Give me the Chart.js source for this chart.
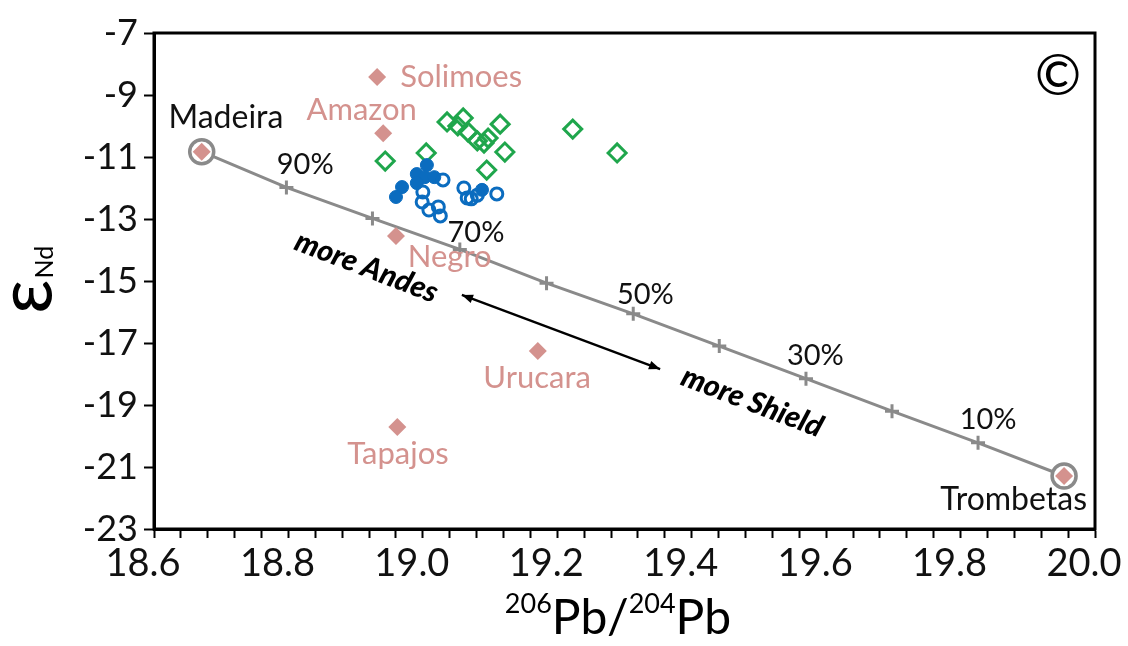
<!DOCTYPE html>
<html>
<head>
<meta charset="utf-8">
<script src="https://cdn.jsdelivr.net/npm/chart.js@4.4.1/dist/chart.umd.min.js"></script>
<style>
  html, body { margin: 0; padding: 0; background: #fff; }
  #wrap { width: 1128px; height: 646px; }
</style>
</head>
<body>
<div id="wrap"><canvas id="c"></canvas></div>
<script>
// river end members (206Pb/204Pb, eNd)
const rivers   = ['Madeira', 'Solimoes', 'Amazon', 'Negro', 'Urucara', 'Tapajos', 'Trombetas'];
const riverPb  = [18.671, 18.932, 18.941, 18.960, 19.171, 18.962, 19.954];
const riverNd  = [-10.83, -8.42, -10.23, -13.55, -17.26, -19.71, -21.29];

// green open diamonds
const greenPb = [18.944, 19.005, 19.036, 19.060, 19.052, 19.067, 19.081, 19.091, 19.097, 19.115, 19.122, 19.095, 19.223, 19.289];
const greenNd = [-11.13, -10.87, -9.87, -9.74, -10.00, -10.19, -10.48, -10.55, -10.39, -9.94, -10.84, -11.42, -10.10, -10.87];

// blue filled circles
const blueFillPb = [19.006, 18.991, 19.003, 19.017, 18.991, 18.969, 18.960, 19.088];
const blueFillNd = [-11.26, -11.55, -11.65, -11.65, -11.84, -11.97, -12.29, -12.06];

// blue open circles
const blueOpenPb = [19.030, 19.000, 18.999, 19.009, 19.023, 19.026, 19.061, 19.066, 19.081, 19.110, 19.072];
const blueOpenNd = [-11.74, -12.13, -12.45, -12.71, -12.61, -12.90, -12.00, -12.32, -12.23, -12.19, -12.35];

// mixing line Madeira -> Trombetas, marks every 10 %
const mixPct = [100, 90, 80, 70, 60, 50, 40, 30, 20, 10, 0];
const mixPb  = [18.671, 18.797, 18.925, 19.055, 19.184, 19.313, 19.441, 19.570, 19.698, 19.826, 19.954];
const mixNd  = [-10.83, -11.98, -12.98, -13.98, -15.07, -16.06, -17.10, -18.15, -19.20, -20.22, -21.29];

const xTickLabels = [18.6, 18.8, 19.0, 19.2, 19.4, 19.6, 19.8, 20.0];
const yTickLabels = [-23, -21, -19, -17, -15, -13, -11, -9, -7];

const FONT = 'Lato, "Open Sans", sans-serif';
const pink = '#d4928e';
const green = '#1fa64c';
const blue = '#0b6cbf';
const grey = '#8a8a8a';

const pts = (xs, ys) => xs.map((x, i) => ({ x: x, y: ys[i] }));

// text placed on the plot (data coords)
const notes = [
  { t: 'Solimoes',  x: 19.057, y: -8.42,  c: pink, s: 31 },
  { t: 'Amazon',    x: 18.909, y: -9.48,  c: pink, s: 31 },
  { t: 'Negro',     x: 19.040, y: -14.23, c: pink, s: 31 },
  { t: 'Urucara',   x: 19.170, y: -18.13, c: pink, s: 31 },
  { t: 'Tapajos',   x: 18.963, y: -20.58, c: pink, s: 31 },
  { t: 'Madeira',   x: 18.707, y: -9.74,  c: '#111', s: 32 },
  { t: 'Trombetas', x: 19.879, y: -22.06, c: '#111', s: 32 },
  { t: '90%', x: 18.825, y: -11.26, c: '#111', s: 29 },
  { t: '70%', x: 19.079, y: -13.45, c: '#111', s: 29 },
  { t: '50%', x: 19.331, y: -15.45, c: '#111', s: 29 },
  { t: '30%', x: 19.584, y: -17.42, c: '#111', s: 29 },
  { t: '10%', x: 19.841, y: -19.48, c: '#111', s: 29 }
];
const arrows = [{ x1: 19.058, y1: -15.45, x2: 19.353, y2: -17.84 }];
const slanted = [
  { t: 'more Andes',  x: 18.916, y: -14.55, a: 21 },
  { t: 'more Shield', x: 19.490, y: -18.90, a: 21 }
];

const decor = {
  id: 'decor',
  afterDatasetsDraw(chart) {
    const ctx = chart.ctx, a = chart.chartArea;
    const sx = chart.scales.x, sy = chart.scales.y;
    ctx.save();
    ctx.textAlign = 'center';
    ctx.textBaseline = 'middle';
    notes.forEach(n => {
      ctx.fillStyle = n.c;
      ctx.font = n.s + 'px ' + FONT;
      ctx.fillText(n.t, sx.getPixelForValue(n.x), sy.getPixelForValue(n.y));
    });
    slanted.forEach(n => {
      ctx.save();
      ctx.translate(sx.getPixelForValue(n.x), sy.getPixelForValue(n.y));
      ctx.rotate(n.a * Math.PI / 180);
      ctx.fillStyle = '#000';
      ctx.font = 'italic 900 30px ' + FONT;
      ctx.fillText(n.t, 0, 0);
      ctx.restore();
    });
    arrows.forEach(r => {
      const x1 = sx.getPixelForValue(r.x1), y1 = sy.getPixelForValue(r.y1);
      const x2 = sx.getPixelForValue(r.x2), y2 = sy.getPixelForValue(r.y2);
      const ang = Math.atan2(y2 - y1, x2 - x1);
      ctx.strokeStyle = '#000';
      ctx.fillStyle = '#000';
      ctx.lineWidth = 2.4;
      ctx.beginPath(); ctx.moveTo(x1, y1); ctx.lineTo(x2, y2); ctx.stroke();
      [[x1, y1, ang + Math.PI], [x2, y2, ang]].forEach(h => {
        ctx.beginPath();
        ctx.moveTo(h[0], h[1]);
        ctx.lineTo(h[0] - 12 * Math.cos(h[2] - 0.38), h[1] - 12 * Math.sin(h[2] - 0.38));
        ctx.lineTo(h[0] - 12 * Math.cos(h[2] + 0.38), h[1] - 12 * Math.sin(h[2] + 0.38));
        ctx.closePath();
        ctx.fill();
      });
    });
    // panel mark
    ctx.fillStyle = '#000';
    ctx.font = '56px ' + FONT;
    ctx.fillText('\u00A9', a.right - 37, a.top + 44);
    // frame
    ctx.strokeStyle = '#000';
    ctx.lineWidth = 3;
    ctx.strokeRect(a.left, a.top, a.right - a.left, a.bottom - a.top);
    ctx.restore();
  },
  afterDraw(chart) {
    const ctx = chart.ctx;
    ctx.save();
    ctx.fillStyle = '#000';
    ctx.textBaseline = 'alphabetic';
    ctx.textAlign = 'left';
    // x title  206Pb/204Pb
    const parts = [['206', 27, -21], ['Pb/', 48, 0], ['204', 27, -21], ['Pb', 48, 0]];
    let w = 0;
    parts.forEach(p => { ctx.font = p[1] + 'px ' + FONT; w += ctx.measureText(p[0]).width; });
    let x = 618 - w / 2;
    parts.forEach(p => {
      ctx.font = p[1] + 'px ' + FONT;
      ctx.fillText(p[0], x, 634 + p[2]);
      x += ctx.measureText(p[0]).width;
    });
    // y title  eNd
    ctx.translate(52, 314);
    ctx.rotate(-Math.PI / 2);
    ctx.font = '76px ' + FONT;
    ctx.fillText('\u03B5', 0, 0);
    const ew = ctx.measureText('\u03B5').width;
    ctx.font = '25px ' + FONT;
    ctx.fillText('Nd', ew + 1, 1);
    ctx.restore();
  }
};

new Chart(document.getElementById('c'), {
  type: 'scatter',
  data: {
    datasets: [
      { label: 'rivers', data: pts(riverPb, riverNd), pointStyle: 'rectRot', pointRadius: 9,
        backgroundColor: pink, borderColor: pink, borderWidth: 0 },
      { label: 'blue open', data: pts(blueOpenPb, blueOpenNd), pointStyle: 'circle', pointRadius: 6,
        backgroundColor: 'rgba(255,255,255,0)', borderColor: blue, borderWidth: 3 },
      { label: 'blue filled', data: pts(blueFillPb, blueFillNd), pointStyle: 'circle', pointRadius: 6.5,
        backgroundColor: blue, borderColor: blue, borderWidth: 1 },
      { label: 'green', data: pts(greenPb, greenNd), pointStyle: 'rectRot', pointRadius: 9,
        backgroundColor: 'rgba(255,255,255,0)', borderColor: green, borderWidth: 3 },
      { label: 'ends', data: [{ x: mixPb[0], y: mixNd[0] }, { x: mixPb[mixPb.length - 1], y: mixNd[mixNd.length - 1] }],
        pointStyle: 'circle', pointRadius: 12, backgroundColor: '#fff', borderColor: grey, borderWidth: 3.5 },
      { label: 'mixing', data: pts(mixPb, mixNd), showLine: true, borderColor: grey, borderWidth: 3,
        pointStyle: 'cross', pointRadius: mixPct.map(p => (p === 100 || p === 0) ? 0 : 7),
        pointBorderColor: grey, pointBorderWidth: 3, backgroundColor: grey }
    ]
  },
  options: {
    responsive: true,
    maintainAspectRatio: false,
    animation: false,
    events: [],
    layout: { padding: { top: 33, right: 33, left: 0, bottom: 0 } },
    plugins: { legend: { display: false }, tooltip: { enabled: false } },
    scales: {
      x: {
        type: 'linear', min: 18.6, max: 20.0,
        border: { display: true, color: '#000', width: 3 },
        grid: { drawOnChartArea: false, drawTicks: true, tickLength: 9, tickWidth: 2, tickColor: '#000' },
        ticks: {
          stepSize: 0.04, autoSkip: false, maxRotation: 0, padding: 3, labelOffset: -11,
          color: '#111', font: { family: FONT, size: 38 },
          callback: v => xTickLabels.some(t => Math.abs(t - v) < 1e-6) ? v.toFixed(1) : ''
        },
        afterFit: s => { s.height = 117; s.paddingLeft = 0; s.paddingRight = 0; }
      },
      y: {
        type: 'linear', min: -23, max: -7,
        border: { display: true, color: '#000', width: 3 },
        grid: { drawOnChartArea: false, drawTicks: true, tickLength: 10, tickWidth: 2, tickColor: '#000' },
        ticks: {
          stepSize: 2, autoSkip: false, padding: 6,
          color: '#111', font: { family: FONT, size: 36 },
          callback: v => yTickLabels.includes(Math.round(v)) ? String(Math.round(v)) : ''
        },
        afterFit: s => { s.width = 154; s.paddingTop = 0; s.paddingBottom = 0; }
      }
    }
  },
  plugins: [decor]
});
</script>
</body>
</html>
